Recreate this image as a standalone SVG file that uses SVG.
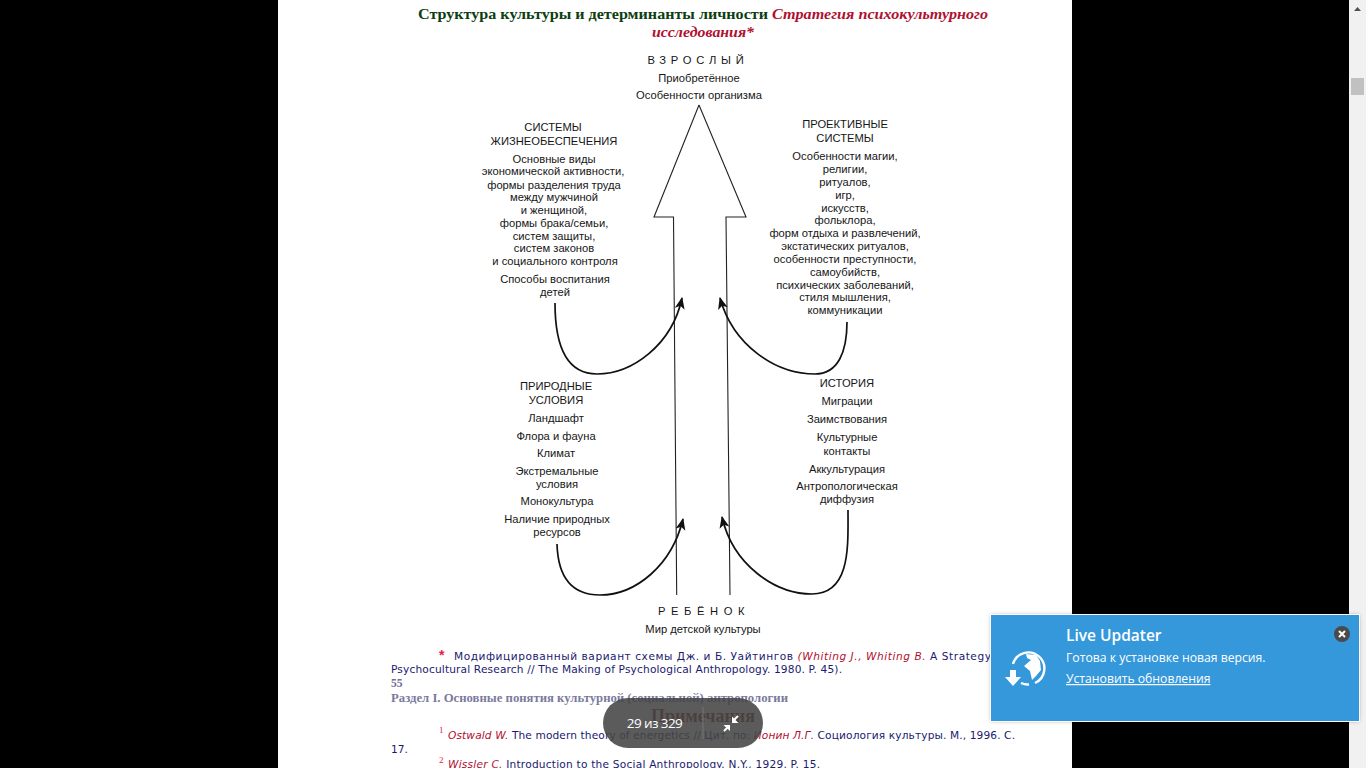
<svg xmlns="http://www.w3.org/2000/svg" width="1366" height="768" viewBox="0 0 1366 768">
<style>
.t{font-family:"Liberation Sans",Arial,sans-serif;font-size:11.2px;fill:#161616;text-anchor:middle}
.c{fill:none;stroke:#111;stroke-width:1.7;marker-end:url(#ah)}
.ln{fill:none;stroke:#222;stroke-width:1.1}
.fn{font-family:"DejaVu Sans",sans-serif;font-size:10.6px;fill:#1a1a6e}
.red{fill:#b01030;font-style:italic}
.ser{font-family:"Liberation Serif",serif;font-weight:bold}
.pop{font-family:"Open Sans","Noto Sans",sans-serif;fill:#fff}
</style>
<defs>
<marker id="ah" markerUnits="userSpaceOnUse" markerWidth="16" markerHeight="12" refX="11" refY="5" orient="auto"><path d="M0 0L12 5L0 10L3 5Z" fill="#111"/></marker>
<filter id="sh" x="-5%" y="-10%" width="110%" height="120%"><feGaussianBlur stdDeviation="2"/></filter>
</defs>
<rect width="1366" height="768" fill="#000"/>
<rect x="278" width="794" height="768" fill="#fff"/>
<g id="title" class="ser" font-size="15">
<text x="418" y="19" fill="#0e3d12" textLength="350" lengthAdjust="spacingAndGlyphs">Структура культуры и детерминанты личности</text>
<text x="772" y="19" class="red" textLength="216" lengthAdjust="spacingAndGlyphs">Стратегия психокультурного</text>
<text x="652" y="37" class="red" textLength="102" lengthAdjust="spacingAndGlyphs">исследования*</text>
</g>
<g id="connectors">
<path class="ln" d="M699 105L654 217H673.5L676.7 595M699 105L746 217H726L730 595"/>
<path class="c" d="M555 303C555 345 566 374 597 374C632 374 672 345 682 298"/>
<path class="c" d="M847 322C847 352 838 374 815 374C775 374 733 345 720 298"/>
<path class="c" d="M557 544C558 578 572 595 600 595C636 595 672 565 683 519"/>
<path class="c" d="M848 510C848 545 851 594 812 594C775 594 733 565 722 517"/>
</g>
<g id="adult" class="t">
<text x="698" y="64" letter-spacing="4.8">ВЗРОСЛЫЙ</text>
<text x="699" y="82">Приобретённое</text>
<text x="699" y="99">Особенности организма</text>
</g>
<g id="life-systems" class="t">
<text x="553" y="131">СИСТЕМЫ</text>
<text x="554" y="145">ЖИЗНЕОБЕСПЕЧЕНИЯ</text>
<text x="554" y="163">Основные виды</text>
<text x="553" y="175">экономической активности,</text>
<text x="554" y="189">формы разделения труда</text>
<text x="554" y="201">между мужчиной</text>
<text x="554" y="214">и женщиной,</text>
<text x="554" y="227">формы брака/семьи,</text>
<text x="554" y="240">систем защиты,</text>
<text x="554" y="252">систем законов</text>
<text x="555" y="265">и социального контроля</text>
<text x="555" y="283">Способы воспитания</text>
<text x="555" y="296">детей</text>
</g>
<g id="projective" class="t">
<text x="845" y="128">ПРОЕКТИВНЫЕ</text>
<text x="845" y="142">СИСТЕМЫ</text>
<text x="845" y="160">Особенности магии,</text>
<text x="845" y="173">религии,</text>
<text x="845" y="186">ритуалов,</text>
<text x="845" y="199">игр,</text>
<text x="845" y="212">искусств,</text>
<text x="845" y="224">фольклора,</text>
<text x="845" y="237">форм отдыха и развлечений,</text>
<text x="845" y="250">экстатических ритуалов,</text>
<text x="845" y="263">особенности преступности,</text>
<text x="845" y="276">самоубийств,</text>
<text x="845" y="289">психических заболеваний,</text>
<text x="845" y="301">стиля мышления,</text>
<text x="845" y="314">коммуникации</text>
</g>
<g id="nature" class="t">
<text x="556" y="390">ПРИРОДНЫЕ</text>
<text x="556" y="404">УСЛОВИЯ</text>
<text x="556" y="422">Ландшафт</text>
<text x="556" y="440">Флора и фауна</text>
<text x="556" y="457">Климат</text>
<text x="557" y="475">Экстремальные</text>
<text x="557" y="488">условия</text>
<text x="557" y="505">Монокультура</text>
<text x="557" y="523">Наличие природных</text>
<text x="557" y="536">ресурсов</text>
</g>
<g id="history" class="t">
<text x="847" y="387">ИСТОРИЯ</text>
<text x="847" y="405">Миграции</text>
<text x="847" y="423">Заимствования</text>
<text x="847" y="441">Культурные</text>
<text x="847" y="455">контакты</text>
<text x="847" y="473">Аккультурация</text>
<text x="847" y="490">Антропологическая</text>
<text x="847" y="503">диффузия</text>
</g>
<g id="child" class="t">
<text x="704" y="615" letter-spacing="5.6">РЕБЁНОК</text>
<text x="703" y="633">Мир детской культуры</text>
</g>
<g id="notes">
<text x="439" y="660" font-family="Liberation Sans,sans-serif" font-size="14" font-weight="bold" fill="#e0203c">*</text>
<text x="454" y="660" class="fn" textLength="537" lengthAdjust="spacing">Модифицированный вариант схемы Дж. и Б. Уайтингов <tspan class="red">(Whiting J., Whiting B.</tspan> A Strategy</text>
<text x="391" y="673" class="fn" textLength="451" lengthAdjust="spacing">Psychocultural Research // The Making of Psychological Anthropology. 1980. P. 45).</text>
<text x="391" y="687" class="ser" font-size="11.5" fill="#6c6c96">55</text>
<text x="391" y="702" class="ser" font-size="11.5" fill="#7a7a9e" textLength="397" lengthAdjust="spacingAndGlyphs">Раздел I. Основные понятия культурной (социальной) антропологии</text>
<text x="703" y="722" class="ser" font-size="18" fill="#7d2222" text-anchor="middle">Примечания</text>
<text x="439" y="733" font-family="Liberation Serif,serif" font-size="9" fill="#e0203c">1</text>
<text x="448" y="739" class="fn" textLength="567" lengthAdjust="spacing"><tspan class="red">Ostwald W.</tspan> The modern theory of energetics // Цит. по: <tspan class="red">Ионин Л.Г.</tspan> Социология культуры. М., 1996. С.</text>
<text x="391" y="753" class="fn">17.</text>
<text x="439" y="763" font-family="Liberation Serif,serif" font-size="9" fill="#e0203c">2</text>
<text x="448" y="768" class="fn" textLength="372" lengthAdjust="spacing"><tspan class="red">Wissler C.</tspan> Introduction to the Social Anthropology. N.Y., 1929. P. 15.</text>
</g>
<g id="page-pill">
<rect x="603" y="698" width="160" height="50" rx="25" fill="#444" fill-opacity=".88"/>
<line x1="703" y1="707" x2="703" y2="739" stroke="#777" stroke-width="1"/>
<text x="654.5" y="728" font-family="Open Sans,sans-serif" font-size="13.5" fill="#fff" text-anchor="middle" letter-spacing="-.6">29 из 329</text>
<path d="M738 716L734 720M728 727L724 731" stroke="#fff" stroke-width="2"/>
<path d="M732 716.500V723H738.500ZM730 731V725H723.500Z" fill="#fff"/>
</g>
<g id="scrollbar">
<rect x="1349" width="17" height="768" fill="#f1f1f1"/>
<path d="M1354 11L1357.5 7L1361 11Z" fill="#505050"/>
<rect x="1351" y="78" width="13" height="17" fill="#c1c1c1"/>
</g>
<g id="live-updater">
<rect x="991" y="615" width="368" height="106" fill="#000" fill-opacity=".35" filter="url(#sh)"/>
<rect x="990.5" y="614.5" width="369" height="107" fill="#3498db" stroke="#fff"/>
<text x="1066" y="641" class="pop" font-size="15.5" font-weight="600">Live Updater</text>
<text x="1066" y="662" class="pop" font-size="12.2">Готова к установке новая версия.</text>
<text x="1066" y="683" class="pop" font-size="12.2" text-decoration="underline">Установить обновления</text>
<path d="M1013 664A16 16 0 1 1 1035 683M1029 684.5A16 16 0 0 1 1021 683" fill="none" stroke="#fff" stroke-width="2.4"/>
<path d="M1026 654L1036 655L1040 661L1041 670L1036 676L1032 680L1030 671L1024 666L1031 660L1027 658Z" fill="#fff"/>
<path d="M1010 670H1016V677H1021L1013 686L1005 677H1010Z" fill="#fff"/>
<circle cx="1342" cy="634" r="8" fill="#4a4a4a"/>
<path d="M1339 631L1345 637M1345 631L1339 637" stroke="#fff" stroke-width="2"/>
</g>
</svg>
